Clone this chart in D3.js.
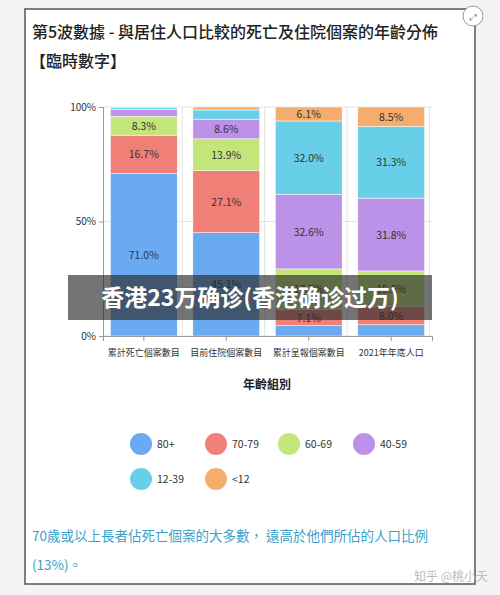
<!doctype html>
<html>
<head>
<meta charset="utf-8">
<style>
  body { margin: 0; background: #fff; }
  text { font-family: "Noto Sans CJK TC", "Noto Sans", sans-serif; }
</style>
</head>
<body>
<script src="https://d3js.org/d3.v7.min.js"></script>
<script>
// categories and series
var categories = ["累計死亡個案數目", "目前住院個案數目", "累計呈報個案數目", "2021年年底人口"];
var ageGroups = ["80+", "70-79", "60-69", "40-59", "12-39", "<12"];
var colors = ["#6aaaf0", "#f07f78", "#c3e57a", "#bb92e8", "#67cfe8", "#f5ad6e"];
var s80 = [71.0, 45.1, 4.5, 4.9];
var s70 = [16.7, 27.1, 7.1, 8.0];
var s60 = [8.3, 13.9, 17.7, 15.5];
var s40 = [3.0, 8.6, 32.6, 31.8];
var s12 = [0.8, 4.0, 32.0, 31.3];
var sU12 = [0.2, 1.3, 6.1, 8.5];
var yTicks = [0, 50, 100];

var series = [s80, s70, s60, s40, s12, sU12];
var rows = categories.map(function(c, i) {
    var r = { cat: c };
    ageGroups.forEach(function(g, j) { r[g] = series[j][i]; });
    return r;
});

var svg = d3.select("body").append("svg").attr("width", 500).attr("height", 595);

// page background and card
svg.append("rect").attr("width", 500).attr("height", 595).attr("fill", "#f4f4f4");
svg.append("rect").attr("x", 25).attr("y", 9).attr("width", 450).attr("height", 575)
    .attr("fill", "#fff").attr("stroke", "#555").attr("stroke-width", 1.5);

svg.append("text").attr("x", 32).attr("y", 38).attr("font-size", 16).attr("font-weight", 500)
    .attr("fill", "#222").text("第5波數據 - 與居住人口比較的死亡及住院個案的年齡分佈");
svg.append("text").attr("x", 30).attr("y", 67).attr("font-size", 16).attr("font-weight", 500)
    .attr("fill", "#222").text("【臨時數字】");

// scales
var x = d3.scaleBand().domain(categories).range([103, 432]).paddingInner(0.19).paddingOuter(0.09);
var y = d3.scaleLinear().domain([0, 100]).range([336, 107]);

// grid
svg.append("g").selectAll("line").data(yTicks).join("line")
    .attr("x1", 103).attr("x2", 432).attr("y1", d => y(d)).attr("y2", d => y(d))
    .attr("stroke", "#e3e3e3");
svg.append("g").selectAll("line").data(categories).join("line")
    .attr("x1", d => x(d) + x.bandwidth() + 5).attr("x2", d => x(d) + x.bandwidth() + 5)
    .attr("y1", 107).attr("y2", 336).attr("stroke", "#e3e3e3");

var stack = d3.stack().keys(ageGroups)(rows);
var layer = svg.append("g").selectAll("g").data(stack).join("g")
    .attr("fill", (d, i) => colors[i]);
layer.selectAll("rect").data(d => d).join("rect")
    .attr("x", d => x(d.data.cat)).attr("width", x.bandwidth())
    .attr("y", d => y(d[1])).attr("height", d => y(d[0]) - y(d[1]))
    .attr("stroke", "#fff").attr("stroke-width", 0.5);
layer.selectAll("text").data(d => d.filter(p => p[1] - p[0] >= 5)).join("text")
    .attr("x", d => x(d.data.cat) + x.bandwidth() / 2)
    .attr("y", d => (y(d[0]) + y(d[1])) / 2 + 4)
    .attr("text-anchor", "middle").attr("font-size", 10.5).attr("fill", "#333")
    .text(d => (d[1] - d[0]).toFixed(1) + "%");

// axes
var yAxis = svg.append("g").attr("transform", "translate(103,0)")
    .call(d3.axisLeft(y).tickValues(yTicks).tickFormat(d => d + "%").tickSize(4));
var xAxis = svg.append("g").attr("transform", "translate(0,336)")
    .call(d3.axisBottom(x).tickSize(5).tickPadding(9));
[yAxis, xAxis].forEach(function(a) {
    a.select(".domain").attr("stroke", "#999");
    a.selectAll(".tick line").attr("stroke", "#999");
    a.selectAll("text").attr("fill", "#333").attr("font-size", 9)
        .style("font-family", "'Noto Sans CJK TC', sans-serif");
});
yAxis.selectAll("text").attr("font-size", 10);

svg.append("text").attr("x", 267).attr("y", 389).attr("text-anchor", "middle")
    .attr("font-size", 12).attr("font-weight", 600).attr("fill", "#222").text("年齡組別");

// legend
var lx = [141, 216, 289, 364];
var legend = svg.append("g").selectAll("g").data(ageGroups).join("g")
    .attr("transform", (d, i) => "translate(" + lx[i % 4] + "," + (444 + Math.floor(i / 4) * 35) + ")");
legend.append("circle").attr("r", 11).attr("fill", (d, i) => colors[i]);
legend.append("text").attr("x", 16).attr("y", 4).attr("font-size", 10.5).attr("fill", "#333").text(d => d);

// footnote
svg.append("text").attr("x", 32).attr("y", 541).attr("font-size", 13.5).attr("fill", "#3a9fc9")
    .text("70歲或以上長者佔死亡個案的大多數，  遠高於他們所佔的人口比例");
svg.append("text").attr("x", 32).attr("y", 570).attr("font-size", 13.5).attr("fill", "#3a9fc9")
    .text("(13%)。");

// overlay banner
svg.append("rect").attr("x", 68).attr("y", 275).attr("width", 364).attr("height", 45)
    .attr("fill", "#2a2a2a").attr("opacity", 0.65);
svg.append("text").attr("x", 250).attr("y", 306).attr("text-anchor", "middle")
    .attr("font-size", 23).attr("font-weight", 700).attr("fill", "#fff")
    .attr("stroke", "#555").attr("stroke-width", 0.6).attr("paint-order", "stroke")
    .text("香港23万确诊(香港确诊过万)");

// watermark and expand icon
svg.append("text").attr("x", 488).attr("y", 581).attr("text-anchor", "end").attr("font-size", 12)
    .attr("fill", "#bbb").text("知乎 @桃小夭");
svg.append("circle").attr("cx", 473).attr("cy", 16).attr("r", 10).attr("fill", "#fff").attr("stroke", "#999");
svg.append("text").attr("x", 473).attr("y", 20).attr("text-anchor", "middle").attr("font-size", 9)
    .attr("fill", "#888").text("⤢");
</script>
</body>
</html>
